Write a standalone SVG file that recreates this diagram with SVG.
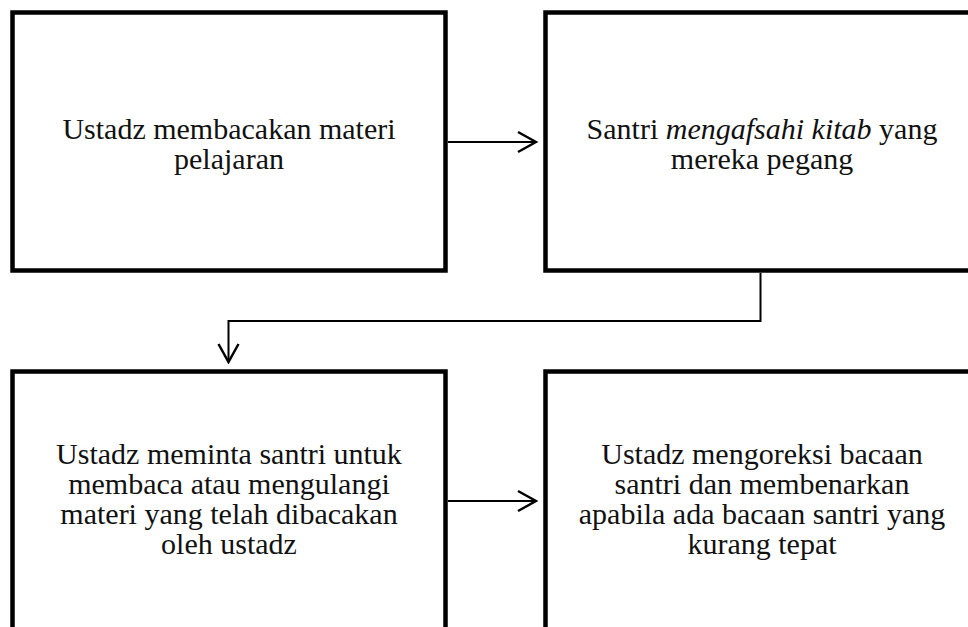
<svg xmlns="http://www.w3.org/2000/svg" width="968" height="627" viewBox="0 0 968 627">
<style>
.box{fill:#fff;stroke:#000;stroke-width:4.5}
.t{font-family:"Liberation Serif","DejaVu Serif",serif;font-size:30px;fill:#111;text-anchor:middle}
.c{fill:none;stroke:#000;stroke-width:2}
</style>
<defs>
<marker id="ah" markerUnits="userSpaceOnUse" viewBox="-20 -12 22 24" refX="0" refY="0" markerWidth="22" markerHeight="24" orient="auto">
<path d="M-18,-10 L0,0 L-18,10" fill="none" stroke="#000" stroke-width="2.5"/>
</marker>
</defs>
<rect width="968" height="627" fill="#fff"/>
<g id="n1">
<rect class="box" x="12.5" y="12.5" width="433" height="258"/>
<text class="t" x="229" y="139">Ustadz membacakan materi</text>
<text class="t" x="229" y="169">pelajaran</text>
</g>
<g id="n2">
<rect class="box" x="545.5" y="12.5" width="433" height="258"/>
<text class="t" x="762" y="139">Santri <tspan font-style="italic">mengafsahi kitab</tspan> yang</text>
<text class="t" x="762" y="169">mereka pegang</text>
</g>
<g id="n3">
<rect class="box" x="12.5" y="371.5" width="433" height="258"/>
<text class="t" x="229" y="464">Ustadz meminta santri untuk</text>
<text class="t" x="229" y="494">membaca atau mengulangi</text>
<text class="t" x="229" y="524">materi yang telah dibacakan</text>
<text class="t" x="229" y="554">oleh ustadz</text>
</g>
<g id="n4">
<rect class="box" x="545.5" y="371.5" width="433" height="258"/>
<text class="t" x="762" y="464">Ustadz mengoreksi bacaan</text>
<text class="t" x="762" y="494">santri dan membenarkan</text>
<text class="t" x="762" y="524">apabila ada bacaan santri yang</text>
<text class="t" x="762" y="554">kurang tepat</text>
</g>
<g id="connectors">
<path class="c" d="M448,142 L536,142" marker-end="url(#ah)"/>
<path class="c" d="M760.5,273 L760.5,321 L228.5,321 L228.5,362" marker-end="url(#ah)"/>
<path class="c" d="M448,501 L536,501" marker-end="url(#ah)"/>
</g>
</svg>
